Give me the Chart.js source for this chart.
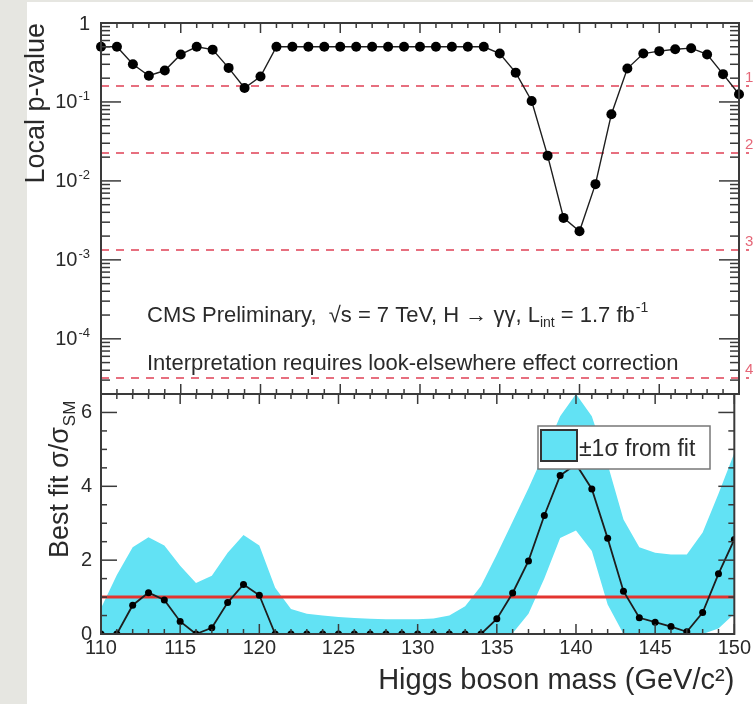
<!DOCTYPE html>
<html>
<head>
<meta charset="utf-8">
<title>Local p-value and best fit signal strength</title>
<script src="https://cdn.jsdelivr.net/npm/chart.js@4.4.1/dist/chart.umd.min.js"></script>
<style>
  html, body { margin: 0; padding: 0; background: #e6e6e1; }
  #wrap { position: relative; width: 753px; height: 704px; overflow: hidden; }
  #panel { position: absolute; left: 27px; top: 2px; right: 0; bottom: 0; background: #fff; }
  canvas { position: absolute; left: 0; top: 0; }
</style>
</head>
<body>
<div id="wrap">
  <div id="panel"></div>
  <canvas id="pvalue-chart" width="753" height="704"></canvas>
  <canvas id="bestfit-chart" width="753" height="704"></canvas>
</div>
<script>

// Higgs mass hypotheses (GeV/c^2)
var massPoints = [110, 111, 112, 113, 114, 115, 116, 117, 118, 119,
                  120, 121, 122, 123, 124, 125, 126, 127, 128, 129,
                  130, 131, 132, 133, 134, 135, 136, 137, 138, 139,
                  140, 141, 142, 143, 144, 145, 146, 147, 148, 149, 150];

// upper panel - local p-value
var localPValues = [0.5, 0.5, 0.30, 0.215, 0.25, 0.40, 0.5, 0.46, 0.27, 0.15,
                    0.21, 0.5, 0.5, 0.5, 0.5, 0.5, 0.5, 0.5, 0.5, 0.5,
                    0.5, 0.5, 0.5, 0.5, 0.5, 0.41, 0.235, 0.103, 0.0209, 0.0034,
                    0.0023, 0.0091, 0.07, 0.265, 0.41, 0.44, 0.465, 0.48, 0.40, 0.225, 0.125];

// lower panel - best fit sigma/sigma_SM and its +-1 sigma band
var bestFitValues = [0, 0, 0.78, 1.12, 0.92, 0.34, 0, 0.17, 0.85, 1.34,
                     1.05, 0, 0, 0, 0, 0, 0, 0, 0, 0,
                     0, 0, 0, 0, 0, 0.41, 1.11, 1.98, 3.21, 4.29,
                     4.6, 3.93, 2.59, 1.16, 0.44, 0.32, 0.2, 0.06, 0.58, 1.63, 2.56];

var bandUpper = [0.7, 1.6, 2.35, 2.62, 2.4, 1.85, 1.38, 1.58, 2.2, 2.68,
                 2.4, 1.25, 0.68, 0.55, 0.5, 0.46, 0.43, 0.41, 0.4, 0.4,
                 0.4, 0.42, 0.5, 0.75, 1.3, 2.15, 3.05, 3.95, 4.9, 5.9,
                 6.5, 5.9, 4.6, 3.1, 2.35, 2.2, 2.15, 2.15, 2.75, 3.8, 4.9];

var bandLower = [0, 0, 0, 0, 0, 0, 0, 0, 0, 0,
                 0, 0, 0, 0, 0, 0, 0, 0, 0, 0,
                 0, 0, 0, 0, 0, 0, 0.02, 0.55, 1.5, 2.6,
                 2.8, 2.25, 0.8, 0, 0, 0, 0, 0, 0, 0.15, 0.55];

var smExpectation = 1;

// significance reference lines (one-sided p for 1,2,3,4 sigma)
var sigmaLevels = [0.1587, 0.02275, 0.00135, 0.0000317];
var sigmaLabels = ['1', '2', '3', '4'];

// ticks
var massTicks = [110, 115, 120, 125, 130, 135, 140, 145, 150];
var pTickValues = [1, 0.1, 0.01, 0.001, 0.0001];
var pTickLabels = ['1', '10', '10', '10', '10'];
var pTickExponents = ['', '-1', '-2', '-3', '-4'];
var fitTickValues = [0, 2, 4, 6];

var FONT = '"Liberation Sans", Arial, Helvetica, sans-serif';
var BAND_COLOR = '#62e2f4';
var TEXT_COLOR = '#2a2a2a';


function toPoints(values) {
    return massPoints.map(function (m, i) {
        return { x: m, y: values[i] };
    });
}

function line(ctx, x1, y1, x2, y2) {
    ctx.beginPath();
    ctx.moveTo(x1, y1);
    ctx.lineTo(x2, y2);
    ctx.stroke();
}

// ROOT style: ticks pointing inside the frame
function drawMassTicks(chart) {
    var ctx = chart.ctx;
    var a = chart.chartArea;
    var x = chart.scales.x;
    for (var m = massTicks[0]; m <= massTicks[massTicks.length - 1]; m++) {
        var px = x.getPixelForValue(m);
        var len = (massTicks.indexOf(m) >= 0) ? 10 : 5;
        line(ctx, px, a.top, px, a.top + len);
        line(ctx, px, a.bottom, px, a.bottom - len);
    }
}

function drawBox(chart) {
    var ctx = chart.ctx;
    var a = chart.chartArea;
    ctx.strokeRect(a.left, a.top, a.right - a.left, a.bottom - a.top);
}


var pvalueFramePlugin = {
    id: 'pvalueFrame',
    beforeDatasetsDraw: function (chart) {
        var ctx = chart.ctx;
        var a = chart.chartArea;
        var y = chart.scales.y;
        ctx.save();
        ctx.strokeStyle = 'rgba(225,75,95,0.8)';
        ctx.lineWidth = 2;
        ctx.setLineDash([8, 7]);
        for (var i = 0; i < sigmaLevels.length; i++) {
            var py = Math.round(y.getPixelForValue(sigmaLevels[i]));
            line(ctx, a.left, py, a.right + 10, py);
        }
        ctx.setLineDash([]);
        ctx.fillStyle = 'rgba(225,75,95,0.85)';
        ctx.font = '15px ' + FONT;
        ctx.textAlign = 'left';
        ctx.textBaseline = 'alphabetic';
        for (var j = 0; j < sigmaLevels.length; j++) {
            var ly = y.getPixelForValue(sigmaLevels[j]);
            ctx.fillText(sigmaLabels[j], a.right + 6, ly - 4);
        }
        ctx.restore();
    },
    afterDraw: function (chart) {
        var ctx = chart.ctx;
        var a = chart.chartArea;
        var y = chart.scales.y;
        ctx.save();
        ctx.strokeStyle = '#3a3a3a';
        ctx.lineWidth = 1.5;
        drawMassTicks(chart);
        // log ticks left and right
        for (var e = -5; e <= 0; e++) {
            for (var k = 1; k <= 9; k++) {
                var v = k * Math.pow(10, e);
                if (v < y.min * 0.999 || v > y.max * 1.001) continue;
                var py = y.getPixelForValue(v);
                var len = (k === 1) ? 20 : 9;
                line(ctx, a.left, py, a.left + len, py);
                line(ctx, a.right, py, a.right - len, py);
            }
        }
        ctx.lineWidth = 2;
        drawBox(chart);

        // decade labels with superscript exponent
        ctx.fillStyle = TEXT_COLOR;
        var rightEdge = a.left - 11;
        for (var t = 0; t < pTickValues.length; t++) {
            var ty0 = y.getPixelForValue(pTickValues[t]);
            ctx.font = '13px ' + FONT;
            var we = pTickExponents[t] ? ctx.measureText(pTickExponents[t]).width + 1 : 0;
            if (we) {
                ctx.textAlign = 'left';
                ctx.textBaseline = 'alphabetic';
                ctx.fillText(pTickExponents[t], rightEdge - we + 1, ty0 - 2);
            }
            ctx.font = '20px ' + FONT;
            ctx.textAlign = 'right';
            ctx.textBaseline = 'middle';
            ctx.fillText(pTickLabels[t], rightEdge - we, ty0 + 1);
        }

        // annotation
        ctx.textAlign = 'left';
        ctx.textBaseline = 'alphabetic';
        var tx = 147, ty = 322;
        ctx.font = '22px ' + FONT;
        var s1 = 'CMS Preliminary,  \u221As = 7 TeV, H \u2192 \u03B3\u03B3, L';
        ctx.fillText(s1, tx, ty);
        tx += ctx.measureText(s1).width;
        ctx.font = '14px ' + FONT;
        ctx.fillText('int', tx, ty + 5);
        tx += ctx.measureText('int').width;
        ctx.font = '22px ' + FONT;
        var s2 = ' = 1.7 fb';
        ctx.fillText(s2, tx, ty);
        tx += ctx.measureText(s2).width;
        ctx.font = '14px ' + FONT;
        ctx.fillText('-1', tx + 1, ty - 10);

        ctx.font = '22px ' + FONT;
        ctx.fillText('Interpretation requires look-elsewhere effect correction', 147, 370);
        ctx.restore();
    }
};

var bestfitFramePlugin = {
    id: 'bestfitFrame',
    afterDraw: function (chart) {
        var ctx = chart.ctx;
        var a = chart.chartArea;
        var y = chart.scales.y;
        ctx.save();
        ctx.strokeStyle = '#3a3a3a';
        ctx.lineWidth = 1.5;
        drawMassTicks(chart);
        for (var v = 0; v <= y.max + 0.001; v += 0.5) {
            var py = y.getPixelForValue(v);
            var len = (fitTickValues.indexOf(v) >= 0) ? 16 : 6;
            line(ctx, a.left, py, a.left + len, py);
            line(ctx, a.right, py, a.right - len, py);
        }
        ctx.lineWidth = 2;
        drawBox(chart);

        // y title with subscript
        ctx.fillStyle = TEXT_COLOR;
        ctx.translate(61, 558);
        ctx.rotate(-Math.PI / 2);
        ctx.textAlign = 'left';
        ctx.textBaseline = 'middle';
        ctx.font = '27px ' + FONT;
        var t = 'Best fit \u03C3/\u03C3';
        ctx.fillText(t, 0, 0);
        var w = ctx.measureText(t).width;
        ctx.font = '17px ' + FONT;
        ctx.fillText('SM', w + 1, 9);
        ctx.setTransform(1, 0, 0, 1, 0, 0);

        // legend
        var lx = 538, ly = 426, lw = 172, lh = 43;
        ctx.fillStyle = '#fff';
        ctx.fillRect(lx, ly, lw, lh);
        ctx.strokeStyle = '#777';
        ctx.lineWidth = 1.5;
        ctx.strokeRect(lx, ly, lw, lh);
        ctx.fillStyle = chart.data.datasets[2].backgroundColor;
        ctx.fillRect(541, 430, 36, 31);
        ctx.strokeStyle = '#333';
        ctx.lineWidth = 2;
        ctx.strokeRect(541, 430, 36, 31);
        ctx.fillStyle = TEXT_COLOR;
        ctx.font = '23px ' + FONT;
        ctx.textBaseline = 'alphabetic';
        ctx.fillText('\u00B11\u03C3 from fit', 579, 456);
        ctx.restore();
    }
};


var pvalueChart = new Chart(document.getElementById('pvalue-chart'), {
    type: 'line',
    data: {
        datasets: [{
            label: 'Local p-value',
            data: toPoints(localPValues),
            borderColor: '#1e1e1e',
            borderWidth: 1.4,
            pointRadius: 5,
            pointBackgroundColor: '#000',
            pointBorderWidth: 0,
            tension: 0,
            clip: false
        }]
    },
    options: {
        responsive: false,
        animation: false,
        devicePixelRatio: 1,
        layout: { padding: { left: 0, top: 23, right: 14, bottom: 310 } },
        plugins: { legend: { display: false }, tooltip: { enabled: false } },
        scales: {
            x: { type: 'linear', min: 110, max: 150, display: false },
            y: {
                type: 'logarithmic',
                min: 2e-5,
                max: 1,
                afterFit: function (scale) { scale.width = 101; },
                afterBuildTicks: function (scale) {
                    scale.ticks = pTickValues.map(function (v) { return { value: v }; });
                },
                grid: { display: false, drawTicks: false },
                border: { display: false },
                ticks: { display: false },
                title: {
                    display: true,
                    text: 'Local p-value',
                    align: 'end',
                    color: TEXT_COLOR,
                    font: { family: FONT, size: 27 },
                    padding: { top: 20, bottom: 0 }
                }
            }
        }
    },
    plugins: [pvalueFramePlugin]
});

var bestfitChart = new Chart(document.getElementById('bestfit-chart'), {
    type: 'line',
    data: {
        datasets: [{
            label: 'Best fit',
            data: toPoints(bestFitValues),
            borderColor: '#1e1e1e',
            borderWidth: 1.8,
            pointRadius: 3.5,
            pointBackgroundColor: '#000',
            pointBorderWidth: 0,
            tension: 0,
            order: 0
        }, {
            label: 'SM',
            data: [{ x: massPoints[0], y: smExpectation }, { x: massPoints[massPoints.length - 1], y: smExpectation }],
            borderColor: '#e3342f',
            borderWidth: 3,
            pointRadius: 0,
            order: 1
        }, {
            label: '\u00B11\u03C3 from fit',
            data: toPoints(bandUpper),
            backgroundColor: BAND_COLOR,
            borderWidth: 0,
            pointRadius: 0,
            fill: '+1',
            order: 2
        }, {
            label: 'band lower',
            data: toPoints(bandLower),
            borderWidth: 0,
            pointRadius: 0,
            fill: false,
            order: 3
        }]
    },
    options: {
        responsive: false,
        animation: false,
        devicePixelRatio: 1,
        layout: { padding: { left: 0, top: 394, right: 14, bottom: 0 } },
        plugins: { legend: { display: false }, tooltip: { enabled: false } },
        scales: {
            x: {
                type: 'linear',
                min: 110,
                max: 150,
                afterFit: function (scale) { scale.height = 70; },
                afterBuildTicks: function (scale) {
                    scale.ticks = massTicks.map(function (v) { return { value: v }; });
                },
                grid: { display: false, drawTicks: false },
                border: { display: false },
                ticks: {
                    autoSkip: false,
                    maxRotation: 0,
                    padding: 2,
                    color: TEXT_COLOR,
                    font: { family: FONT, size: 20 }
                },
                title: {
                    display: true,
                    text: 'Higgs boson mass (GeV/c\u00B2)',
                    align: 'end',
                    color: TEXT_COLOR,
                    font: { family: FONT, size: 29 },
                    padding: { top: 0, bottom: 6 }
                }
            },
            y: {
                min: 0,
                max: 6.5,
                afterFit: function (scale) { scale.width = 101; },
                afterBuildTicks: function (scale) {
                    scale.ticks = fitTickValues.map(function (v) { return { value: v }; });
                },
                grid: { display: false, drawTicks: false },
                border: { display: false },
                ticks: {
                    autoSkip: false,
                    padding: 9,
                    color: TEXT_COLOR,
                    font: { family: FONT, size: 20 }
                }
            }
        }
    },
    plugins: [bestfitFramePlugin]
});

</script>
</body>
</html>
